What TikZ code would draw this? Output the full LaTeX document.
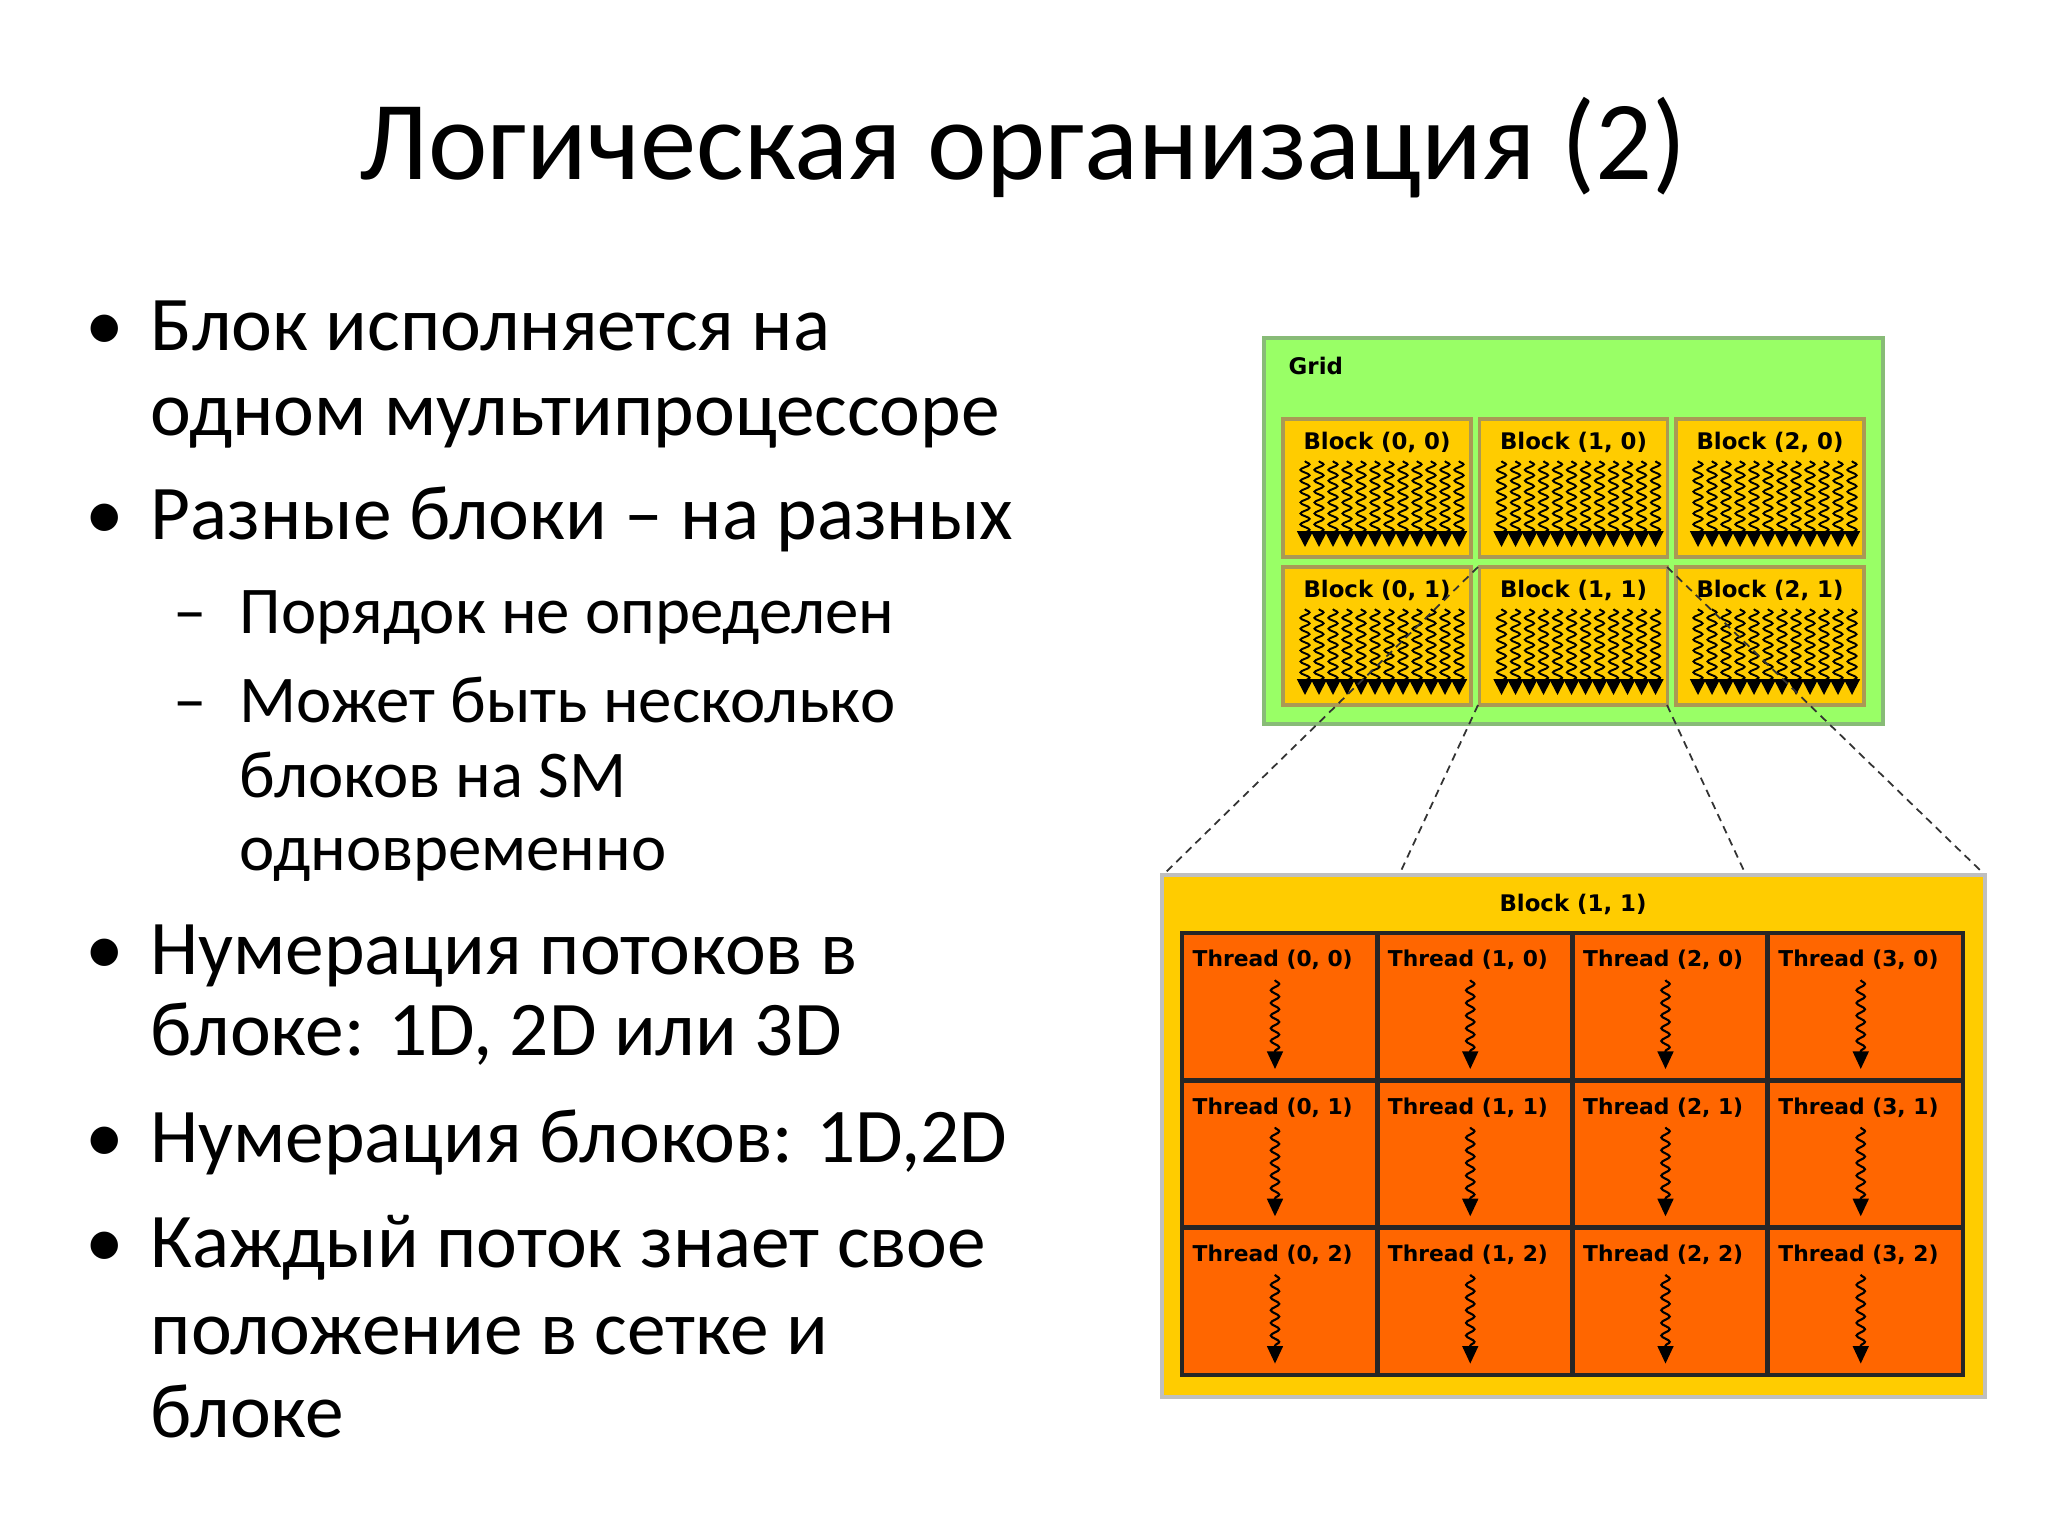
\documentclass[tikz,border=0pt]{standalone}
\usepackage{fontspec}
\setmainfont{Carlito}
\newfontfamily\dvb{DejaVu Sans}[BoldFont={DejaVu Sans Bold}]
\usetikzlibrary{decorations.pathmorphing,arrows.meta}
\definecolor{gridg}{HTML}{99FF66}
\definecolor{gridb}{HTML}{88BB77}
\definecolor{blky}{HTML}{FFCC00}
\definecolor{blkb}{HTML}{AA9955}
\definecolor{thro}{HTML}{FF6600}
\begin{document}
\begin{tikzpicture}[x=0.01cm,y=-0.01cm,
  txt/.style={anchor=base west,inner sep=0,font=\fontsize{22}{26}\selectfont},
  subtxt/.style={anchor=base west,inner sep=0,font=\fontsize{19}{23}\selectfont},
  lbl/.style={inner sep=0,font=\dvb\bfseries\fontsize{6.5}{8}\selectfont},
  tlbl/.style={anchor=west,inner sep=0,font=\dvb\bfseries\fontsize{6.2}{8}\selectfont},
  bsq/.style={decorate,decoration={snake,amplitude=1.3pt,segment length=3.1pt,post length=3pt},line width=0.55pt,-{Triangle[length=4.5pt,width=4.5pt]}},
  tsq/.style={decorate,decoration={snake,amplitude=1.2pt,segment length=3.6pt,post length=4pt},line width=0.6pt,-{Triangle[length=5pt,width=4.5pt]}},
  dl/.style={dashed,line width=0.5pt,dash pattern=on 2.2pt off 1.6pt,black!80}]
\useasboundingbox (0,0) rectangle (2048,1536);
\fill[white] (0,0) rectangle (2048,1536);
% title
\node[inner sep=0,font=\fontsize{32}{38}\selectfont] (title) at (1023,148) {Логическая организация (2)};
% bullets
\foreach \y/\t [count=\i] in {350/Блок исполняется на,539/Разные блоки – на разных,974/Нумерация потоков в,1162/Нумерация блоков: 1D\,2D,1267/Каждый поток знает свое}{
  \node[txt] (b\i) at (85,\y) {•};}
\node[txt] (l1) at (150,350) {Блок исполняется на};
\node[txt] (l2) at (150,435) {одном мультипроцессоре};
\node[txt] (l3) at (150,539) {Разные блоки – на разных};
\node[subtxt] (d1) at (173,633) {–};
\node[subtxt] (l4) at (239,633) {Порядок не определен};
\node[subtxt] (d2) at (173,722) {–};
\node[subtxt] (l5) at (239,722) {Может быть несколько};
\node[subtxt] (l6) at (239,797) {блоков на SM};
\node[subtxt] (l7) at (239,870) {одновременно};
\node[txt] (l8) at (150,974) {Нумерация потоков в};
\node[txt] (l9) at (150,1055) {блоке: 1D, 2D или 3D};
\node[txt] (l10) at (150,1162) {Нумерация блоков: 1D,2D};
\node[txt] (l11) at (150,1267) {Каждый поток знает свое};
\node[txt] (l12) at (150,1354) {положение в сетке и};
\node[txt] (l13) at (150,1437) {блоке};
% grid
\draw[fill=gridg,draw=gridb,line width=1.2pt] (1264,338) rectangle (1883,724);
\node[lbl,anchor=west] (gridl) at (1288,366) {Grid};
\foreach \c in {0,1,2}{\foreach \r in {0,1}{
  \pgfmathsetmacro\xl{1283+\c*196.5}
  \pgfmathsetmacro\yt{419+\r*148}
  \draw[fill=blky,draw=blkb,line width=1pt] (\xl,\yt) rectangle ++(188,138);
  \node[lbl] (bl\c\r) at (\xl+94,\yt+23) {Block (\c, \r)};
  \foreach \k in {0,...,11}{
    \draw[bsq] (\xl+22+\k*14,\yt+42) -- (\xl+22+\k*14,\yt+128);}
}}
% dashed connectors
\coordinate (g1) at (1478,567); \coordinate (g2) at (1667,567);
\coordinate (g3) at (1478,705); \coordinate (g4) at (1667,705);
\coordinate (k1) at (1165,873); \coordinate (k2) at (1983,873);
\coordinate (k3) at (1400,873); \coordinate (k4) at (1745,873);
\draw[dl] (g1) -- (k1); \draw[dl] (g2) -- (k2);
\draw[dl] (g3) -- (k3); \draw[dl] (g4) -- (k4);
% big block
\draw[fill=blky,draw=black!25,line width=1.2pt] (1162,875) rectangle (1985,1397);
\node[lbl] (bigl) at (1573,904) {Block (1, 1)};
\foreach \c in {0,...,3}{\foreach \r in {0,1,2}{
  \pgfmathsetmacro\xl{1182+\c*195.25}
  \pgfmathsetmacro\yt{933+\r*147.3}
  \draw[fill=thro,draw=black!85,line width=1.3pt] (\xl,\yt) rectangle ++(195.25,147.3);
  \node[tlbl] (t\c\r) at (\xl+10,\yt+27) {Thread (\c, \r)};
  \draw[tsq] (\xl+93,\yt+47) -- (\xl+93,\yt+136);
}}
\end{tikzpicture}
\end{document}
